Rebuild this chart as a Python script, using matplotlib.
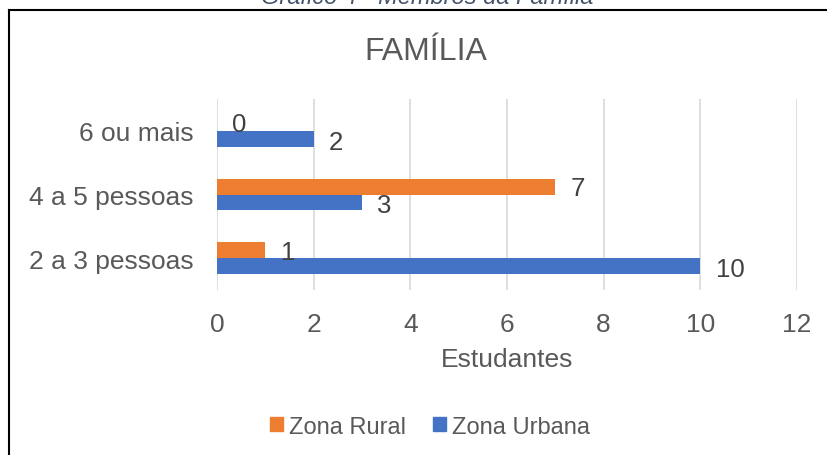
import numpy as np
import matplotlib.pyplot as plt
from matplotlib.lines import Line2D
from matplotlib.patches import Patch

# DATA
categories = ["2 a 3 pessoas", "4 a 5 pessoas", "6 ou mais"]
zona_rural = [1, 7, 0]
zona_urbana = [10, 3, 2]
x_ticks = [0, 2, 4, 6, 8, 10, 12]

ORANGE = "#ED7D31"
BLUE = "#4472C4"
TEXT = "#595959"

plt.rcParams['font.family'] = ['Liberation Sans', 'DejaVu Sans']

fig = plt.figure(figsize=(8.27, 4.56), dpi=100)
ax = fig.add_axes([0.2624, 0.3618, 0.7013, 0.4189])

y = np.arange(len(categories))
h = 0.25
bars_r = ax.barh(y + h / 2, zona_rural, height=h, color=ORANGE, label="Zona Rural")
bars_u = ax.barh(y - h / 2, zona_urbana, height=h, color=BLUE, label="Zona Urbana")

# VALUE LABELS
for bars, vals in ((bars_r, zona_rural), (bars_u, zona_urbana)):
    for b, v in zip(bars, vals):
        ax.annotate(str(v), (b.get_width(), b.get_y() + b.get_height() / 2),
                    xytext=(11, -1 if bars is bars_r else -2), textcoords="offset points",
                    ha="left", va="center", fontsize=18.5, color="#404040")

ax.set_xlim(0, 12)
ax.set_ylim(-0.5, 2.5)
ax.set_xticks(x_ticks)
ax.set_yticks(y)
ax.set_yticklabels(categories)
ax.tick_params(length=0, labelsize=19, labelcolor=TEXT)
ax.tick_params(axis="y", pad=17)
ax.tick_params(axis="x", pad=15.5)
ax.xaxis.grid(True, color="#d9d9d9", linewidth=1.2)
ax.set_axisbelow(True)
for s in ax.spines.values():
    s.set_visible(False)
ax.set_xlabel("Estudantes", fontsize=19, color=TEXT, labelpad=8)

fig.text(0.515, 0.885, "FAMÍLIA", ha="center", va="center", fontsize=23, color=TEXT)
fig.text(0.517, 0.991, "Gráfico 4 - Membros da Família", ha="center", va="baseline",
         fontsize=17, style="italic", color="#44546A")

# BORDER (top and left visible)
fig.add_artist(Line2D([0.011, 1.0], [0.976, 0.976], color="black", linewidth=1.5))
fig.add_artist(Line2D([0.011, 0.011], [0.0, 0.976], color="black", linewidth=1.5))

handles = [Patch(color=ORANGE, label="Zona Rural"), Patch(color=BLUE, label="Zona Urbana")]
leg = fig.legend(handles=handles, loc="center", bbox_to_anchor=(0.52, 0.062), ncol=2,
                 frameon=False, fontsize=17, handlelength=0.55, handleheight=0.55,
                 handletextpad=0.25, columnspacing=1.15)
for t in leg.get_texts():
    t.set_color(TEXT)

fig.savefig("out.png", dpi=100)
